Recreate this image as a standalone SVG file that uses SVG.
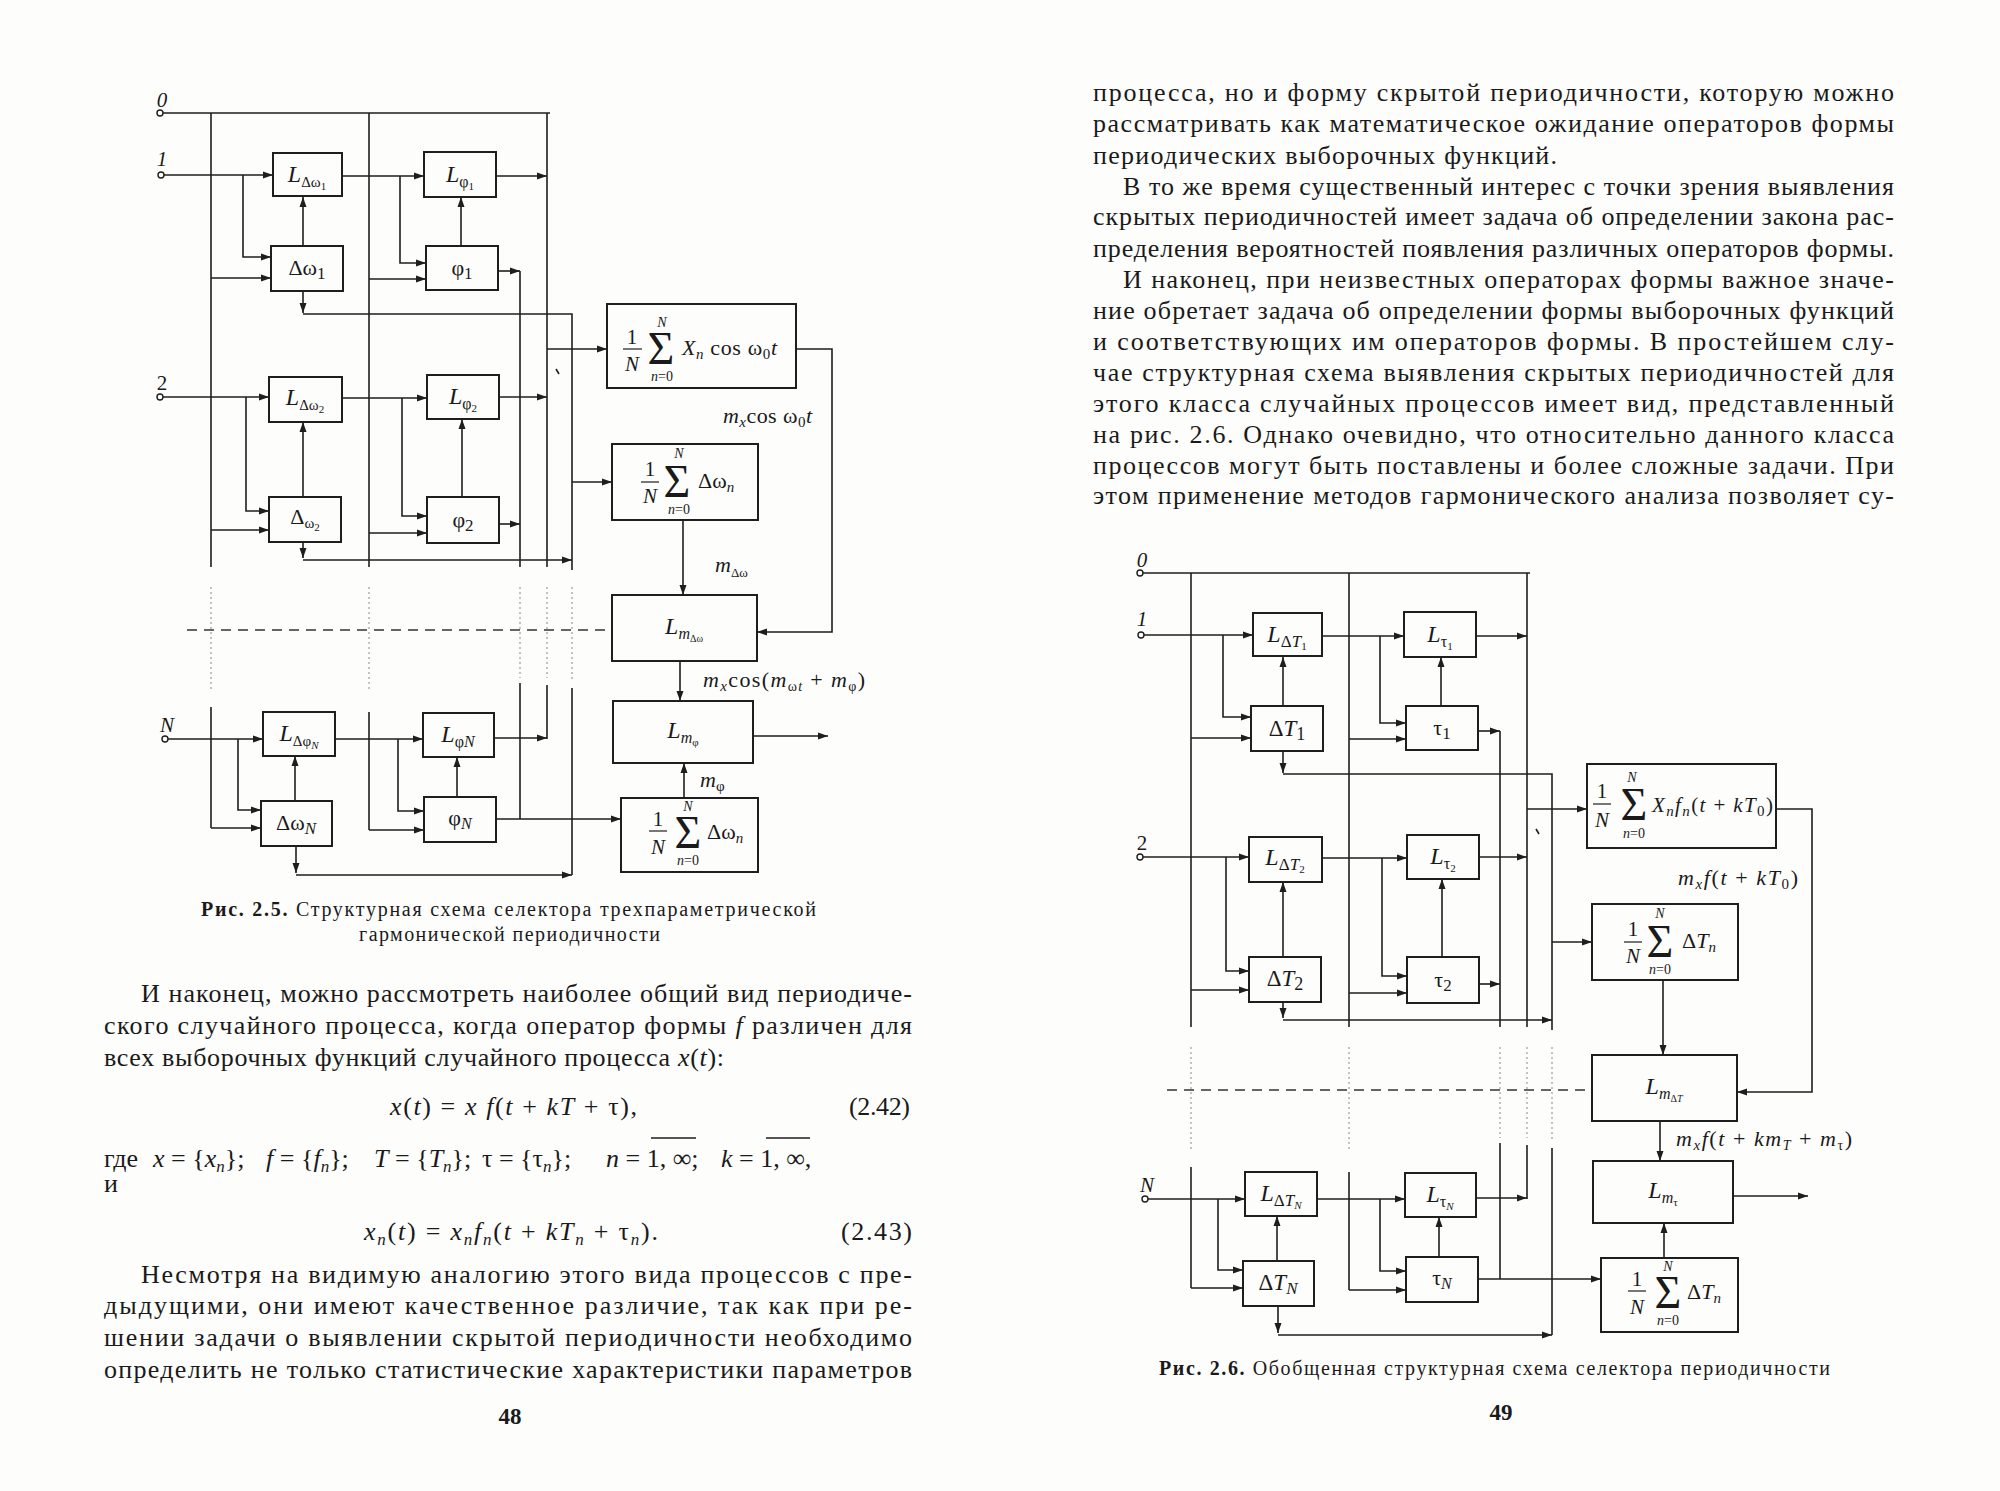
<svg xmlns="http://www.w3.org/2000/svg" width="2000" height="1491" viewBox="0 0 2000 1491">
<defs>
<marker id="ar" markerWidth="10" markerHeight="8" refX="10" refY="4" orient="auto" markerUnits="userSpaceOnUse"><path d="M0,0.5 L10,4 L0,7.5 z" fill="#1e1e1e"/></marker>
<style>
.t{font-family:'Liberation Serif','DejaVu Serif',serif;fill:#1a1a1a}
.b{font-size:26px}
.i{font-style:italic}
.bx{fill:none;stroke:#1e1e1e;stroke-width:2}
.w{fill:none;stroke:#1e1e1e;stroke-width:1.6}
.a{marker-end:url(#ar)}
.d{fill:none;stroke:#888;stroke-width:1;stroke-dasharray:2 3}
.ds{fill:none;stroke:#333;stroke-width:1.4;stroke-dasharray:10 7}
.tm{fill:#fff;stroke:#1e1e1e;stroke-width:1.4}
</style>
</defs>
<rect width="2000" height="1491" fill="#fdfdfc"/>

<!-- ================= Figure 2.5 ================= -->
<g id="fig25">
<g id="connectors25">
<path class="w" d="M163,113 H550 M211,113 V567 M369,113 V567 M547,113 V567 M520,271 V567 M303,314 H572 V570 M211,707 V828 M369,712 V830 M547,685 V739 M520,683 V819 M572,688 V875"/>
<path class="d" d="M211,587 V690 M369,587 V692 M520,587 V678 M547,587 V678 M572,587 V680"/>
<path class="ds" d="M187,630 H607"/>
<g class="w a">
<path d="M164,175 H273"/><path d="M243,175 V257 H271"/><path d="M211,278 H271"/><path d="M303,246 V197"/><path d="M303,291 V313"/>
<path d="M342,176 H424"/><path d="M400,176 V263 H426"/><path d="M369,279 H426"/><path d="M461,246 V197"/><path d="M496,176 H547"/><path d="M498,271 H520"/>
<path d="M547,349 H607"/><path d="M572,482 H612"/><path d="M796,349 H832 V632 H757"/><path d="M683,520 V595"/>
<path d="M163,397 H269"/><path d="M246,397 V511 H269"/><path d="M211,530 H269"/><path d="M303,497 V422"/>
<path d="M342,398 H427"/><path d="M402,398 V516 H427"/><path d="M369,533 H427"/><path d="M462,497 V419"/><path d="M499,397 H547"/><path d="M499,524 H520"/>
<path d="M303,542 V558"/><path d="M303,560 H572"/>
<path d="M168,739 H263"/><path d="M238,739 V810 H261"/><path d="M211,828 H261"/><path d="M295,801 V756"/>
<path d="M335,739 H423"/><path d="M398,739 V811 H424"/><path d="M369,830 H424"/><path d="M457,797 V757"/><path d="M494,738 H547"/><path d="M496,819 H621"/>
<path d="M296,846 V873"/><path d="M296,875 H572"/>
<path d="M680,661 V701"/><path d="M753,736 H828"/><path d="M684,798 V763"/>
</g>
<path class="w" d="M556,369 L559,374"/>
<circle class="tm" cx="160" cy="113" r="3"/><circle class="tm" cx="161" cy="175" r="3"/><circle class="tm" cx="160" cy="397" r="3"/><circle class="tm" cx="165" cy="739" r="3"/>
</g>
<g id="in25" class="t" font-size="21">
<text x="162" y="107" class="i" text-anchor="middle">0</text>
<text x="162" y="166" class="i" text-anchor="middle">1</text>
<text x="162" y="390" text-anchor="middle">2</text>
<text x="167" y="732" class="i" text-anchor="middle">N</text>
</g>
<g id="LDw1"><rect class="bx" x="273" y="153" width="69" height="43"/><text class="t" x="307" y="182" font-size="24" text-anchor="middle"><tspan class="i">L</tspan><tspan font-size="15" dy="5">Δω</tspan><tspan font-size="11" dy="3">1</tspan></text></g>
<g id="Dw1"><rect class="bx" x="271" y="246" width="72" height="45"/><text class="t" x="307" y="275" font-size="22" text-anchor="middle">Δω<tspan font-size="17" dy="4">1</tspan></text></g>
<g id="Lf1"><rect class="bx" x="424" y="152" width="72" height="45"/><text class="t" x="460" y="182" font-size="24" text-anchor="middle"><tspan class="i">L</tspan><tspan font-size="16" dy="5">φ</tspan><tspan font-size="11" dy="3">1</tspan></text></g>
<g id="f1"><rect class="bx" x="426" y="246" width="72" height="44"/><text class="t" x="462" y="275" font-size="22" text-anchor="middle">φ<tspan font-size="17" dy="4">1</tspan></text></g>
<g id="LDw2"><rect class="bx" x="269" y="377" width="73" height="45"/><text class="t" x="305" y="405" font-size="24" text-anchor="middle"><tspan class="i">L</tspan><tspan font-size="15" dy="5">Δω</tspan><tspan font-size="11" dy="3">2</tspan></text></g>
<g id="Dw2"><rect class="bx" x="269" y="497" width="72" height="45"/><text class="t" x="305" y="524" font-size="22" text-anchor="middle">Δ<tspan font-size="15" dy="4">ω</tspan><tspan font-size="11" dy="3">2</tspan></text></g>
<g id="Lf2"><rect class="bx" x="427" y="375" width="72" height="44"/><text class="t" x="463" y="404" font-size="24" text-anchor="middle"><tspan class="i">L</tspan><tspan font-size="16" dy="5">φ</tspan><tspan font-size="11" dy="3">2</tspan></text></g>
<g id="f2"><rect class="bx" x="427" y="497" width="72" height="46"/><text class="t" x="463" y="527" font-size="22" text-anchor="middle">φ<tspan font-size="17" dy="4">2</tspan></text></g>
<g id="LDfN"><rect class="bx" x="263" y="712" width="72" height="44"/><text class="t" x="299" y="741" font-size="24" text-anchor="middle"><tspan class="i">L</tspan><tspan font-size="15" dy="5">Δφ</tspan><tspan font-size="11" dy="3" class="i">N</tspan></text></g>
<g id="DwN"><rect class="bx" x="261" y="801" width="71" height="45"/><text class="t" x="296" y="830" font-size="22" text-anchor="middle">Δω<tspan font-size="17" dy="4" class="i">N</tspan></text></g>
<g id="LfN"><rect class="bx" x="423" y="713" width="71" height="44"/><text class="t" x="458" y="742" font-size="24" text-anchor="middle"><tspan class="i">L</tspan><tspan font-size="16" dy="5">φ</tspan><tspan font-size="16" class="i">N</tspan></text></g>
<g id="fN"><rect class="bx" x="424" y="797" width="72" height="45"/><text class="t" x="460" y="825" font-size="22" text-anchor="middle">φ<tspan font-size="16" dy="4" class="i">N</tspan></text></g>
<g id="SumX"><rect class="bx" x="607" y="304" width="189" height="84"/>
<g class="t"><text x="632" y="344" font-size="21" text-anchor="middle">1</text><line x1="623" y1="349" x2="642" y2="349" stroke="#1e1e1e" stroke-width="1.2"/><text x="632" y="371" font-size="21" class="i" text-anchor="middle">N</text>
<text x="661" y="364" font-size="46" text-anchor="middle">Σ</text><text x="662" y="327" font-size="14" class="i" text-anchor="middle">N</text><text x="662" y="381" font-size="14" text-anchor="middle"><tspan class="i">n</tspan>=0</text>
<text x="682" y="355" font-size="22" textLength="95" lengthAdjust="spacing"><tspan class="i">X</tspan><tspan font-size="15" class="i" dy="4">n</tspan><tspan dy="-4"> cos ω</tspan><tspan font-size="15" dy="4">0</tspan><tspan class="i" dy="-4">t</tspan></text></g></g>
<g id="SumDw"><rect class="bx" x="612" y="444" width="146" height="76"/>
<g class="t"><text x="650" y="476" font-size="21" text-anchor="middle">1</text><line x1="641" y1="482" x2="659" y2="482" stroke="#1e1e1e" stroke-width="1.2"/><text x="650" y="503" font-size="21" class="i" text-anchor="middle">N</text>
<text x="677" y="497" font-size="46" text-anchor="middle">Σ</text><text x="679" y="458" font-size="14" class="i" text-anchor="middle">N</text><text x="679" y="514" font-size="14" text-anchor="middle"><tspan class="i">n</tspan>=0</text>
<text x="698" y="488" font-size="22">Δω<tspan font-size="15" class="i" dy="4">n</tspan></text></g></g>
<g id="LmDw"><rect class="bx" x="612" y="595" width="145" height="66"/><text class="t" x="684" y="634" font-size="24" text-anchor="middle"><tspan class="i">L</tspan><tspan font-size="16" class="i" dy="5">m</tspan><tspan font-size="10" dy="3">Δω</tspan></text></g>
<g id="Lmf"><rect class="bx" x="613" y="701" width="140" height="62"/><text class="t" x="683" y="738" font-size="24" text-anchor="middle"><tspan class="i">L</tspan><tspan font-size="16" class="i" dy="5">m</tspan><tspan font-size="11" dy="3">φ</tspan></text></g>
<g id="SumDw2"><rect class="bx" x="621" y="798" width="137" height="74"/>
<g class="t"><text x="658" y="826" font-size="21" text-anchor="middle">1</text><line x1="649" y1="831" x2="667" y2="831" stroke="#1e1e1e" stroke-width="1.2"/><text x="658" y="854" font-size="21" class="i" text-anchor="middle">N</text>
<text x="688" y="848" font-size="46" text-anchor="middle">Σ</text><text x="688" y="811" font-size="14" class="i" text-anchor="middle">N</text><text x="688" y="865" font-size="14" text-anchor="middle"><tspan class="i">n</tspan>=0</text>
<text x="707" y="839" font-size="22">Δω<tspan font-size="15" class="i" dy="4">n</tspan></text></g></g>
<g id="labels25" class="t" font-size="22">
<text x="723" y="423" textLength="89" lengthAdjust="spacing"><tspan class="i">m</tspan><tspan font-size="15" class="i" dy="4">x</tspan><tspan dy="-4">cos ω</tspan><tspan font-size="15" dy="4">0</tspan><tspan class="i" dy="-4">t</tspan></text>
<text x="715" y="572"><tspan class="i">m</tspan><tspan font-size="13" dy="5">Δω</tspan></text>
<text x="703" y="687" textLength="162" lengthAdjust="spacing"><tspan class="i">m</tspan><tspan font-size="15" class="i" dy="4">x</tspan><tspan dy="-4">cos(</tspan><tspan class="i">m</tspan><tspan font-size="14" dy="4">ω</tspan><tspan font-size="14" class="i">t</tspan><tspan dy="-4"> + </tspan><tspan class="i">m</tspan><tspan font-size="14" dy="4">φ</tspan><tspan dy="-4">)</tspan></text>
<text x="700" y="787"><tspan class="i">m</tspan><tspan font-size="15" dy="4">φ</tspan></text>
</g>
</g>

<!-- ================= Figure 2.6 ================= -->
<g id="fig26" transform="translate(980,460)">
<g id="connectors26">
<path class="w" d="M163,113 H550 M211,113 V567 M369,113 V567 M547,113 V567 M520,271 V567 M303,314 H572 V570 M211,707 V828 M369,712 V830 M547,685 V739 M520,683 V819 M572,688 V875"/>
<path class="d" d="M211,587 V690 M369,587 V692 M520,587 V678 M547,587 V678 M572,587 V680"/>
<path class="ds" d="M187,630 H607"/>
<g class="w a">
<path d="M164,175 H273"/><path d="M243,175 V257 H271"/><path d="M211,278 H271"/><path d="M303,246 V197"/><path d="M303,291 V313"/>
<path d="M342,176 H424"/><path d="M400,176 V263 H426"/><path d="M369,279 H426"/><path d="M461,246 V197"/><path d="M496,176 H547"/><path d="M498,271 H520"/>
<path d="M547,349 H607"/><path d="M572,482 H612"/><path d="M796,349 H832 V632 H757"/><path d="M683,520 V595"/>
<path d="M163,397 H269"/><path d="M246,397 V511 H269"/><path d="M211,530 H269"/><path d="M303,497 V422"/>
<path d="M342,398 H427"/><path d="M402,398 V516 H427"/><path d="M369,533 H427"/><path d="M462,497 V419"/><path d="M499,397 H547"/><path d="M499,524 H520"/>
<path d="M303,542 V558"/><path d="M303,560 H572"/>
<path d="M168,739 H265"/><path d="M238,739 V810 H263"/><path d="M211,828 H263"/><path d="M297,801 V756"/>
<path d="M337,739 H425"/><path d="M400,739 V811 H426"/><path d="M369,830 H426"/><path d="M459,797 V757"/><path d="M496,738 H547"/><path d="M498,819 H621"/>
<path d="M298,846 V873"/><path d="M298,875 H572"/>
<path d="M680,661 V701"/><path d="M753,736 H828"/><path d="M684,798 V763"/>
</g>
<path class="w" d="M556,369 L559,374"/>
<circle class="tm" cx="160" cy="113" r="3"/><circle class="tm" cx="161" cy="175" r="3"/><circle class="tm" cx="160" cy="397" r="3"/><circle class="tm" cx="165" cy="739" r="3"/>
</g>
<g id="in26" class="t" font-size="21">
<text x="162" y="107" class="i" text-anchor="middle">0</text>
<text x="162" y="166" class="i" text-anchor="middle">1</text>
<text x="162" y="390" text-anchor="middle">2</text>
<text x="167" y="732" class="i" text-anchor="middle">N</text>
</g>
<g id="LDT1"><rect class="bx" x="273" y="153" width="69" height="43"/><text class="t" x="307" y="182" font-size="24" text-anchor="middle"><tspan class="i">L</tspan><tspan font-size="17" dy="5">Δ</tspan><tspan font-size="17" class="i">T</tspan><tspan font-size="11" dy="3">1</tspan></text></g>
<g id="DT1"><rect class="bx" x="271" y="246" width="72" height="45"/><text class="t" x="307" y="276" font-size="23" text-anchor="middle">Δ<tspan class="i">T</tspan><tspan font-size="18" dy="4">1</tspan></text></g>
<g id="Lt1"><rect class="bx" x="424" y="152" width="72" height="45"/><text class="t" x="460" y="182" font-size="24" text-anchor="middle"><tspan class="i">L</tspan><tspan font-size="16" dy="5">τ</tspan><tspan font-size="11" dy="3">1</tspan></text></g>
<g id="t1"><rect class="bx" x="426" y="246" width="72" height="44"/><text class="t" x="462" y="275" font-size="22" text-anchor="middle">τ<tspan font-size="17" dy="4">1</tspan></text></g>
<g id="LDT2"><rect class="bx" x="269" y="377" width="73" height="45"/><text class="t" x="305" y="405" font-size="24" text-anchor="middle"><tspan class="i">L</tspan><tspan font-size="17" dy="5">Δ</tspan><tspan font-size="17" class="i">T</tspan><tspan font-size="11" dy="3">2</tspan></text></g>
<g id="DT2"><rect class="bx" x="269" y="497" width="72" height="45"/><text class="t" x="305" y="526" font-size="23" text-anchor="middle">Δ<tspan class="i">T</tspan><tspan font-size="18" dy="4">2</tspan></text></g>
<g id="Lt2"><rect class="bx" x="427" y="375" width="72" height="44"/><text class="t" x="463" y="404" font-size="24" text-anchor="middle"><tspan class="i">L</tspan><tspan font-size="16" dy="5">τ</tspan><tspan font-size="11" dy="3">2</tspan></text></g>
<g id="t2"><rect class="bx" x="427" y="497" width="72" height="46"/><text class="t" x="463" y="527" font-size="22" text-anchor="middle">τ<tspan font-size="17" dy="4">2</tspan></text></g>
<g id="LDTN"><rect class="bx" x="265" y="712" width="72" height="44"/><text class="t" x="301" y="741" font-size="24" text-anchor="middle"><tspan class="i">L</tspan><tspan font-size="17" dy="5">Δ</tspan><tspan font-size="17" class="i">T</tspan><tspan font-size="11" dy="3" class="i">N</tspan></text></g>
<g id="DTN"><rect class="bx" x="263" y="801" width="71" height="45"/><text class="t" x="298" y="830" font-size="23" text-anchor="middle">Δ<tspan class="i">T</tspan><tspan font-size="17" dy="4" class="i">N</tspan></text></g>
<g id="LtN"><rect class="bx" x="425" y="713" width="71" height="44"/><text class="t" x="460" y="742" font-size="24" text-anchor="middle"><tspan class="i">L</tspan><tspan font-size="16" dy="5">τ</tspan><tspan font-size="11" dy="3" class="i">N</tspan></text></g>
<g id="tN"><rect class="bx" x="426" y="797" width="72" height="45"/><text class="t" x="462" y="825" font-size="22" text-anchor="middle">τ<tspan font-size="16" dy="4" class="i">N</tspan></text></g>
<g id="SumXf"><rect class="bx" x="607" y="304" width="189" height="84"/>
<g class="t"><text x="622" y="338" font-size="21" text-anchor="middle">1</text><line x1="613" y1="344" x2="631" y2="344" stroke="#1e1e1e" stroke-width="1.2"/><text x="622" y="367" font-size="21" class="i" text-anchor="middle">N</text>
<text x="654" y="360" font-size="46" text-anchor="middle">Σ</text><text x="652" y="322" font-size="14" class="i" text-anchor="middle">N</text><text x="654" y="378" font-size="14" text-anchor="middle"><tspan class="i">n</tspan>=0</text>
<text x="672" y="352" font-size="21" textLength="121" lengthAdjust="spacing"><tspan class="i">X</tspan><tspan font-size="15" class="i" dy="4">n</tspan><tspan class="i" dy="-4">f</tspan><tspan font-size="15" class="i" dy="4">n</tspan><tspan dy="-4">(</tspan><tspan class="i">t</tspan> + <tspan class="i">kT</tspan><tspan font-size="15" dy="4">0</tspan><tspan dy="-4">)</tspan></text></g></g>
<g id="SumDT"><rect class="bx" x="612" y="444" width="146" height="76"/>
<g class="t"><text x="653" y="476" font-size="21" text-anchor="middle">1</text><line x1="644" y1="482" x2="662" y2="482" stroke="#1e1e1e" stroke-width="1.2"/><text x="653" y="503" font-size="21" class="i" text-anchor="middle">N</text>
<text x="680" y="497" font-size="46" text-anchor="middle">Σ</text><text x="680" y="458" font-size="14" class="i" text-anchor="middle">N</text><text x="680" y="514" font-size="14" text-anchor="middle"><tspan class="i">n</tspan>=0</text>
<text x="702" y="488" font-size="22">Δ<tspan class="i">T</tspan><tspan font-size="15" class="i" dy="4">n</tspan></text></g></g>
<g id="LmDT"><rect class="bx" x="612" y="595" width="145" height="66"/><text class="t" x="684" y="634" font-size="24" text-anchor="middle"><tspan class="i">L</tspan><tspan font-size="16" class="i" dy="5">m</tspan><tspan font-size="10" dy="3">Δ</tspan><tspan font-size="10" class="i">T</tspan></text></g>
<g id="Lmt"><rect class="bx" x="613" y="701" width="140" height="62"/><text class="t" x="683" y="738" font-size="24" text-anchor="middle"><tspan class="i">L</tspan><tspan font-size="16" class="i" dy="5">m</tspan><tspan font-size="11" dy="3">τ</tspan></text></g>
<g id="SumDT2"><rect class="bx" x="621" y="798" width="137" height="74"/>
<g class="t"><text x="657" y="826" font-size="21" text-anchor="middle">1</text><line x1="648" y1="831" x2="666" y2="831" stroke="#1e1e1e" stroke-width="1.2"/><text x="657" y="854" font-size="21" class="i" text-anchor="middle">N</text>
<text x="688" y="848" font-size="46" text-anchor="middle">Σ</text><text x="688" y="811" font-size="14" class="i" text-anchor="middle">N</text><text x="688" y="865" font-size="14" text-anchor="middle"><tspan class="i">n</tspan>=0</text>
<text x="707" y="839" font-size="22">Δ<tspan class="i">T</tspan><tspan font-size="15" class="i" dy="4">n</tspan></text></g></g>
<g id="labels26" class="t" font-size="22">
<text x="698" y="425" textLength="120" lengthAdjust="spacing"><tspan class="i">m</tspan><tspan font-size="15" class="i" dy="4">x</tspan><tspan class="i" dy="-4">f</tspan>(<tspan class="i">t</tspan> + <tspan class="i">kT</tspan><tspan font-size="15" dy="4">0</tspan><tspan dy="-4">)</tspan></text>
<text x="696" y="686" textLength="176" lengthAdjust="spacing"><tspan class="i">m</tspan><tspan font-size="15" class="i" dy="4">x</tspan><tspan class="i" dy="-4">f</tspan>(<tspan class="i">t</tspan> + <tspan class="i">km</tspan><tspan font-size="14" class="i" dy="4">T</tspan><tspan dy="-4"> + </tspan><tspan class="i">m</tspan><tspan font-size="14" dy="4">τ</tspan><tspan dy="-4">)</tspan></text>
</g>
</g>

<!-- ================= Captions and text ================= -->
<g id="text-left" class="t b">
<text x="201" y="916" font-size="20" textLength="615" lengthAdjust="spacing"><tspan font-weight="bold">Рис. 2.5.</tspan> Структурная схема селектора трехпараметрической</text>
<text x="359" y="941" font-size="20" textLength="301" lengthAdjust="spacing">гармонической периодичности</text>
<text x="141" y="1002" textLength="771" lengthAdjust="spacing">И наконец, можно рассмотреть наиболее общий вид периодиче-</text>
<text x="104" y="1034" textLength="808" lengthAdjust="spacing">ского случайного процесса, когда оператор формы <tspan class="i">f</tspan> различен для</text>
<text x="104" y="1066" textLength="620" lengthAdjust="spacing">всех выборочных функций случайного процесса <tspan class="i">x</tspan>(<tspan class="i">t</tspan>):</text>
<text x="390" y="1115" textLength="247" lengthAdjust="spacing"><tspan class="i">x</tspan>(<tspan class="i">t</tspan>) = <tspan class="i">x f</tspan>(<tspan class="i">t</tspan> + <tspan class="i">kT</tspan> + τ),</text>
<text x="849" y="1115" textLength="61" lengthAdjust="spacing">(2.42)</text>
<text x="104" y="1167">где</text>
<text x="153" y="1167"><tspan class="i">x</tspan> = {<tspan class="i">x</tspan><tspan font-size="17" class="i" dy="5">n</tspan><tspan dy="-5">};</tspan></text>
<text x="266" y="1167"><tspan class="i">f</tspan> = {<tspan class="i">f</tspan><tspan font-size="17" class="i" dy="5">n</tspan><tspan dy="-5">};</tspan></text>
<text x="374" y="1167"><tspan class="i">T</tspan> = {<tspan class="i">T</tspan><tspan font-size="17" class="i" dy="5">n</tspan><tspan dy="-5">};</tspan></text>
<text x="482" y="1167">τ = {τ<tspan font-size="17" class="i" dy="5">n</tspan><tspan dy="-5">};</tspan></text>
<text x="606" y="1167"><tspan class="i">n</tspan> = 1, ∞;</text>
<text x="721" y="1167"><tspan class="i">k</tspan> = 1, ∞,</text>
<path d="M651,1138 H696 M766,1138 H810" stroke="#1e1e1e" stroke-width="1.3"/>
<text x="104" y="1192">и</text>
<text x="364" y="1240" textLength="294" lengthAdjust="spacing"><tspan class="i">x</tspan><tspan font-size="17" class="i" dy="5">n</tspan><tspan dy="-5">(</tspan><tspan class="i">t</tspan>) = <tspan class="i">x</tspan><tspan font-size="17" class="i" dy="5">n</tspan><tspan class="i" dy="-5">f</tspan><tspan font-size="17" class="i" dy="5">n</tspan><tspan dy="-5">(</tspan><tspan class="i">t</tspan> + <tspan class="i">kT</tspan><tspan font-size="17" class="i" dy="5">n</tspan><tspan dy="-5"> + τ</tspan><tspan font-size="17" class="i" dy="5">n</tspan><tspan dy="-5">).</tspan></text>
<text x="841" y="1240" textLength="71" lengthAdjust="spacing">(2.43)</text>
<text x="141" y="1283" textLength="771" lengthAdjust="spacing">Несмотря на видимую аналогию этого вида процессов с пре-</text>
<text x="104" y="1314" textLength="808" lengthAdjust="spacing">дыдущими, они имеют качественное различие, так как при ре-</text>
<text x="104" y="1346" textLength="808" lengthAdjust="spacing">шении задачи о выявлении скрытой периодичности необходимо</text>
<text x="104" y="1378" textLength="808" lengthAdjust="spacing">определить не только статистические характеристики параметров</text>
<text x="510" y="1424" font-size="23" font-weight="bold" text-anchor="middle">48</text>
</g>
<g id="text-right" class="t b">
<text x="1093" y="101" textLength="801" lengthAdjust="spacing">процесса, но и форму скрытой периодичности, которую можно</text>
<text x="1093" y="132" textLength="801" lengthAdjust="spacing">рассматривать как математическое ожидание операторов формы</text>
<text x="1093" y="164" textLength="464" lengthAdjust="spacing">периодических выборочных функций.</text>
<text x="1123" y="195" textLength="771" lengthAdjust="spacing">В то же время существенный интерес с точки зрения выявления</text>
<text x="1093" y="225" textLength="801" lengthAdjust="spacing">скрытых периодичностей имеет задача об определении закона рас-</text>
<text x="1093" y="257" textLength="801" lengthAdjust="spacing">пределения вероятностей появления различных операторов формы.</text>
<text x="1123" y="288" textLength="771" lengthAdjust="spacing">И наконец, при неизвестных операторах формы важное значе-</text>
<text x="1093" y="319" textLength="801" lengthAdjust="spacing">ние обретает задача об определении формы выборочных функций</text>
<text x="1093" y="350" textLength="801" lengthAdjust="spacing">и соответствующих им операторов формы. В простейшем слу-</text>
<text x="1093" y="381" textLength="801" lengthAdjust="spacing">чае структурная схема выявления скрытых периодичностей для</text>
<text x="1093" y="412" textLength="801" lengthAdjust="spacing">этого класса случайных процессов имеет вид, представленный</text>
<text x="1093" y="443" textLength="801" lengthAdjust="spacing">на рис. 2.6. Однако очевидно, что относительно данного класса</text>
<text x="1093" y="474" textLength="801" lengthAdjust="spacing">процессов могут быть поставлены и более сложные задачи. При</text>
<text x="1093" y="504" textLength="801" lengthAdjust="spacing">этом применение методов гармонического анализа позволяет су-</text>
<text x="1159" y="1375" font-size="20" textLength="671" lengthAdjust="spacing"><tspan font-weight="bold">Рис. 2.6.</tspan> Обобщенная структурная схема селектора периодичности</text>
<text x="1501" y="1420" font-size="23" font-weight="bold" text-anchor="middle">49</text>
</g>
</svg>
